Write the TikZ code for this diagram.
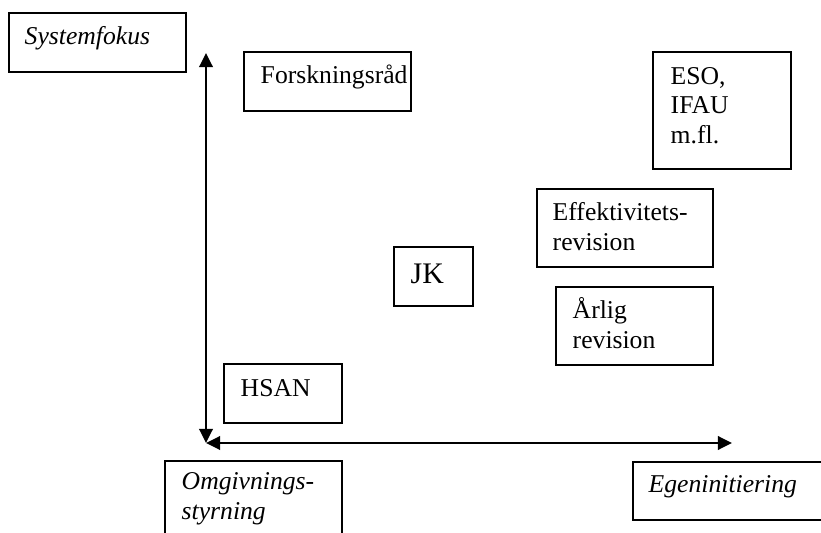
\documentclass[tikz,border=0pt]{standalone}
\usepackage{fontspec}
\setmainfont{Liberation Serif}
\usetikzlibrary{arrows.meta,fit}
\newcommand{\boxfont}{\fontsize{14.6}{16.8}\selectfont}

\begin{document}
\begin{tikzpicture}[x=0.02cm,y=-0.02cm,
  box/.style={draw, line width=0.7pt, inner sep=0pt},
  txt/.style={anchor=base west, align=left, inner sep=0pt, font=\boxfont},
  itxt/.style={txt, font=\boxfont\itshape},
  axis/.style={line width=1.7pt, {Triangle[length=8pt,width=7.5pt]}-{Triangle[length=8pt,width=7.5pt]}}]
\useasboundingbox (0,0) rectangle (821,533);
\clip (0,0) rectangle (821,533);

% axes
\coordinate (origin) at (206,443);
\coordinate (ytop) at (206,53);
\coordinate (xend) at (732,443);
\draw[axis] (ytop) -- (origin);
\draw[axis] (origin) -- (xend);

% axis labels (base = last line)
\node[box, fit={(9,13) (186,72)}] (sys) {};
\node[itxt] (systxt) at ([shift={(16,32)}]sys.north west) {Systemfokus};

\node[box, fit={(165,461) (342,545)}] (omg) {};
\node[itxt] (omgtxt) at ([shift={(17,59)}]omg.north west) {Omgivnings-\\styrning};

\node[box, fit={(633,462) (830,520)}] (egen) {};
\node[itxt] (egentxt) at ([shift={(16,31)}]egen.north west) {Egeninitiering};

% actors
\node[box, fit={(244,52) (411,111)}] (forsk) {};
\node[txt] (forsktxt) at ([shift={(17,32)}]forsk.north west) {Forskningsråd};

\node[box, fit={(653,52) (791,169)}] (eso) {};
\node[txt] (esotxt) at ([shift={(18,92)}]eso.north west) {ESO,\\IFAU\\m.fl.};

\node[box, fit={(537,189) (713,267)}] (eff) {};
\node[txt] (efftxt) at ([shift={(16,62)}]eff.north west) {Effektivitets-\\revision};

\node[box, fit={(394,247) (473,306)}] (jk) {};
\node[txt, font=\fontsize{17}{20}\selectfont] (jktxt) at ([shift={(17,37)}]jk.north west) {JK};

\node[box, fit={(556,287) (713,365)}] (arlig) {};
\node[txt] (arligtxt) at ([shift={(17,62)}]arlig.north west) {Årlig\\revision};

\node[box, fit={(224,364) (342,423)}] (hsan) {};
\node[txt] (hsantxt) at ([shift={(17,33)}]hsan.north west) {HSAN};

\end{tikzpicture}
\end{document}
